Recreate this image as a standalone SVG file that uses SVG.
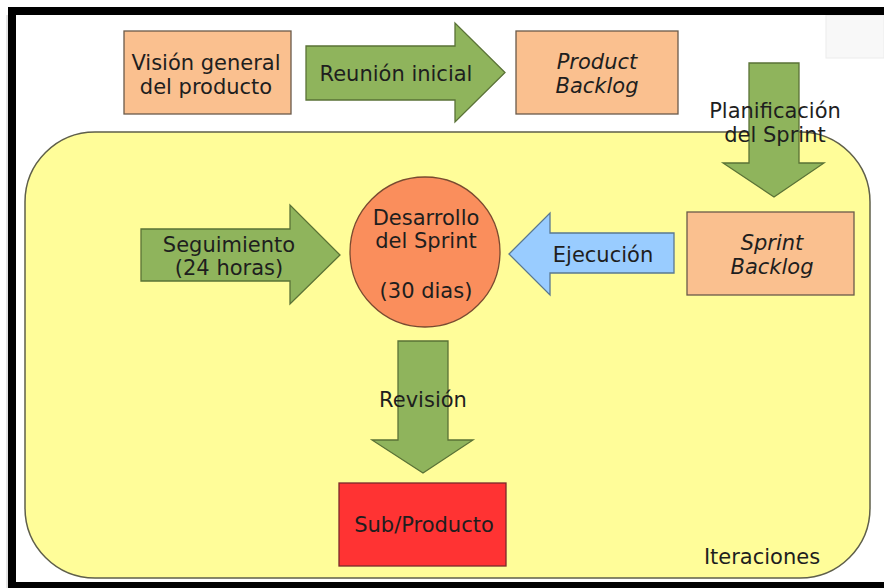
<svg xmlns="http://www.w3.org/2000/svg" width="884" height="588" viewBox="0 0 884 588">
<style>
text{font-family:"DejaVu Sans","Liberation Sans",sans-serif;font-size:21px;fill:#1e1e1e;text-anchor:middle}
.it{font-style:italic}
.peach{fill:#FAC08F;stroke:#6a5a4a;stroke-width:1.3}
.green{fill:#8FB45C;stroke:#5A7236;stroke-width:1.3}
</style>
<rect width="884" height="588" fill="#ffffff"/>
<g id="artifact">
<rect x="826" y="15" width="58" height="43" fill="#f8f8f8" stroke="#ececec" stroke-width="1"/>
</g>
<g id="frame">
<rect x="8" y="7" width="876" height="8" fill="#000"/>
<rect x="8" y="7" width="8" height="581" fill="#000"/>
<rect x="8" y="582" width="876" height="6" fill="#000"/>
<line x1="7" y1="15" x2="7" y2="588" stroke="#c8c8c8" stroke-width="1"/>
</g>
<g id="iteraciones">
<rect x="25" y="132" width="845" height="446" rx="70" ry="70" fill="#FFFD99" stroke="#5f5f4a" stroke-width="1.5"/>
<text x="762" y="564">Iteraciones</text>
</g>
<g id="vision">
<rect class="peach" x="124" y="31" width="167" height="83"/>
<text x="206" y="70">Visión general</text>
<text x="206" y="94">del producto</text>
</g>
<g id="product-backlog">
<rect class="peach" x="516" y="31" width="162" height="83"/>
<text class="it" x="597" y="69">Product</text>
<text class="it" x="597" y="93">Backlog</text>
</g>
<g id="sprint-backlog">
<rect class="peach" x="687" y="212" width="167" height="83"/>
<text class="it" x="772" y="250">Sprint</text>
<text class="it" x="772" y="274">Backlog</text>
</g>
<g id="desarrollo">
<circle cx="425" cy="252" r="75" fill="#FA8E5C" stroke="#7a4a30" stroke-width="1.3"/>
<text x="426" y="225">Desarrollo</text>
<text x="426" y="248">del Sprint</text>
<text x="426" y="298">(30 dias)</text>
</g>
<g id="subproducto">
<rect x="339" y="483" width="167" height="83" fill="#FF3333" stroke="#7a2a2a" stroke-width="1.3"/>
<text x="424" y="532">Sub/Producto</text>
</g>
<g id="connectors">
<g id="reunion">
<path class="green" d="M306,46 H455 V23 L505,72.5 L455,122 V100 H306 Z"/>
<text x="396" y="81">Reunión inicial</text>
</g>
<g id="planificacion">
<path class="green" d="M749,63 H799 V163 H824 L774,197 L723,163 H749 Z"/>
<text x="775" y="118">Planificación</text>
<text x="775" y="142">del Sprint</text>
</g>
<g id="seguimiento">
<path class="green" d="M141,229 H290 V205 L340,255 L290,304 V281 H141 Z"/>
<text x="229" y="252">Seguimiento</text>
<text x="229" y="275">(24 horas)</text>
</g>
<g id="ejecucion">
<path d="M674,233 V273 H550 V295 L509,254 L550,213 V233 Z" fill="#99CCFF" stroke="#5a7890" stroke-width="1.3"/>
<text x="603" y="262">Ejecución</text>
</g>
<g id="revision">
<path class="green" d="M398,341 H448 V440 H473 L423,473 L372,440 H398 Z"/>
<text x="423" y="407">Revisión</text>
</g>
</g>
</svg>
